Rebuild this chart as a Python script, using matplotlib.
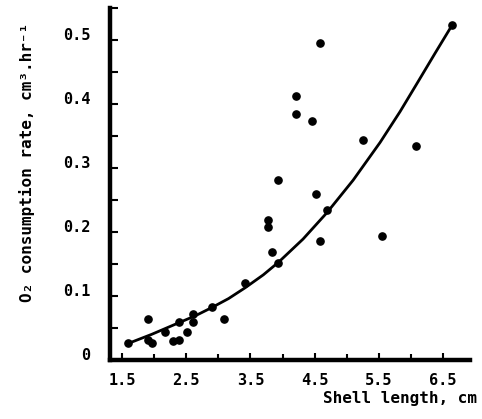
import matplotlib
matplotlib.use("Agg")
import matplotlib.pyplot as plt
from matplotlib.ticker import MultipleLocator, FixedLocator

# Observed points: shell length (cm) vs O2 consumption rate
shell_length = [1.60, 1.90, 1.91, 1.97, 2.17, 2.30, 2.39, 2.38, 2.51, 2.60, 2.60,
                2.90, 3.09, 3.42, 3.78, 3.78, 3.83, 3.93, 3.93, 4.21, 4.21, 4.46,
                4.59, 4.52, 4.58, 4.69, 5.25, 5.55, 6.08, 6.64]
o2_rate = [0.026, 0.064, 0.032, 0.026, 0.044, 0.030, 0.031, 0.060, 0.043, 0.072, 0.060,
           0.083, 0.064, 0.120, 0.219, 0.208, 0.169, 0.151, 0.282, 0.413, 0.385, 0.373,
           0.495, 0.259, 0.186, 0.234, 0.344, 0.194, 0.334, 0.523]

# Fitted curve
curve_x = [1.60, 1.96, 2.38, 2.64, 2.90, 3.16, 3.42, 3.70, 3.94, 4.32, 4.69, 5.10, 5.52, 5.83, 6.10, 6.38, 6.64]
curve_y = [0.026, 0.040, 0.058, 0.069, 0.082, 0.096, 0.113, 0.133, 0.153, 0.189, 0.230, 0.281, 0.340, 0.388, 0.433, 0.480, 0.523]

x_tick_labels = ["1.5", "2.5", "3.5", "4.5", "5.5", "6.5"]
y_tick_labels = ["0", "0.1", "0.2", "0.3", "0.4", "0.5"]

FONT = "DejaVu Sans Mono"

fig = plt.figure(figsize=(4.82, 4.19), dpi=100)
ax = fig.add_axes([110/482, 59/419, 360/482, 352/419])

ax.plot(curve_x, curve_y, color="black", lw=2.0, solid_capstyle="round",
        solid_joinstyle="round")
ax.plot(shell_length, o2_rate, "o", color="black", ms=5.2, mec="black")

ax.set_xlim(1.313, 6.92)
ax.set_ylim(0, 0.55)

for s in ["top", "right"]:
    ax.spines[s].set_visible(False)
for s in ["left", "bottom"]:
    ax.spines[s].set_linewidth(3.2)

ax.xaxis.set_major_locator(FixedLocator([float(v) for v in x_tick_labels]))
ax.set_xticklabels(x_tick_labels, fontfamily=FONT, fontweight="bold", fontsize=11)
ax.xaxis.set_minor_locator(MultipleLocator(0.5))
ax.yaxis.set_major_locator(FixedLocator([float(v) for v in y_tick_labels]))
ax.set_yticklabels(y_tick_labels, fontfamily=FONT, fontweight="bold", fontsize=11)
ax.yaxis.set_minor_locator(MultipleLocator(0.05))

ax.tick_params(axis="both", which="both", direction="in", width=1.5, color="black")
ax.tick_params(axis="x", which="major", length=5, pad=9)
ax.tick_params(axis="x", which="minor", length=4)
ax.tick_params(axis="y", which="major", length=6, pad=14)
ax.tick_params(axis="y", which="minor", length=6)
for lbl in ax.get_yticklabels():
    lbl.set_va("baseline")

fig.text(477/482, 1 - 398/419, "Shell length, cm", ha="right", va="center",
         fontfamily=FONT, fontweight="bold", fontsize=11.5)
fig.text(27/482, 1 - 162/419, "O\u2082 consumption rate, cm\u00b3.hr\u207b\u00b9",
         ha="center", va="center", rotation=90,
         fontfamily=FONT, fontweight="bold", fontsize=11.5)

fig.savefig("out.png", dpi=100)
